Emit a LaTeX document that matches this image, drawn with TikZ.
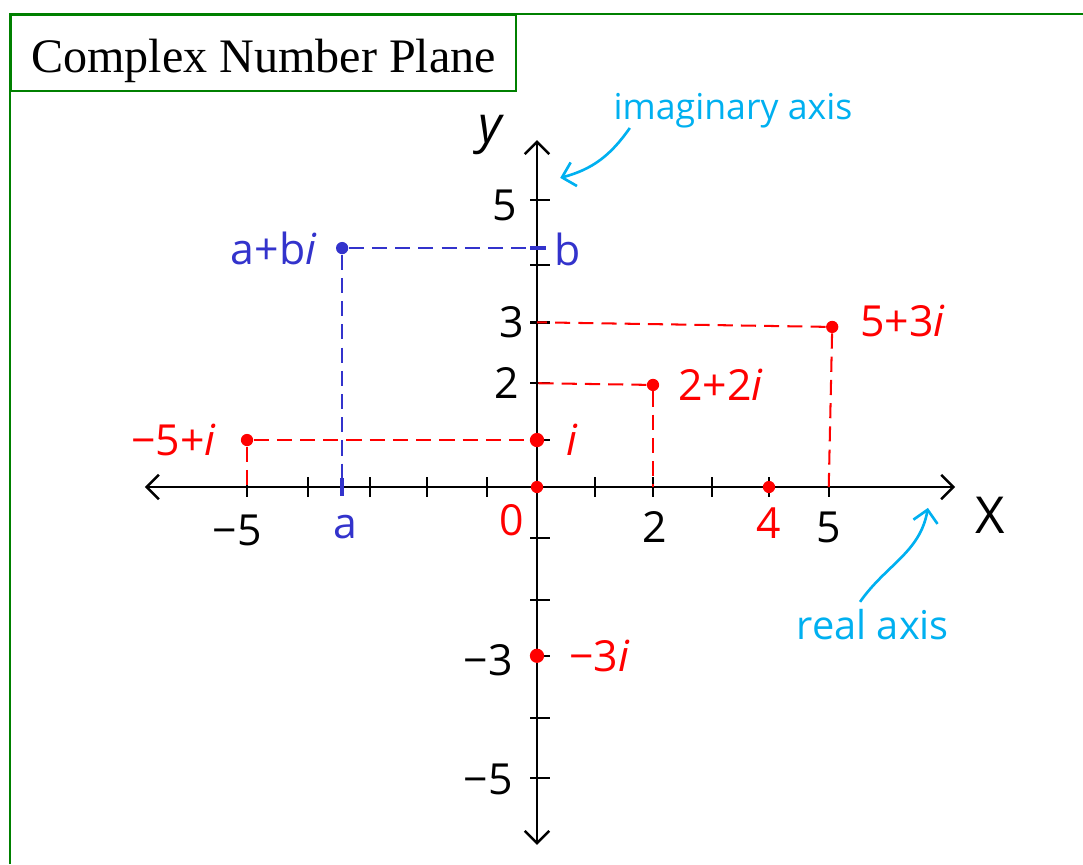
\documentclass[tikz,border=0pt]{standalone}
\usepackage{fontspec}
\setmainfont{Liberation Serif}
\newfontfamily\handfont{Open Sans}
\usetikzlibrary{arrows.meta, positioning, calc}

\definecolor{framegreen}{RGB}{0,128,0}
\definecolor{ptred}{RGB}{255,0,0}
\definecolor{ptblue}{RGB}{51,51,204}
\definecolor{notecyan}{RGB}{0,176,240}

\begin{document}
\begin{tikzpicture}[>={Straight Barb[length=6pt,width=12pt]},
  axisline/.style={line width=1.2pt, black},
  tickmark/.style={line width=1.2pt, black},
  dot/.style={circle, fill=ptred, inner sep=0pt, minimum size=6pt},
  bluedot/.style={dot, fill=ptblue},
  reddash/.style={ptred, line width=1pt, dash pattern=on 7.4pt off 4pt},
  bluedash/.style={reddash, ptblue},
  lbl/.style={font=\handfont\fontsize{21}{24}\selectfont},
  note/.style={font=\handfont\fontsize{17.5}{20}\selectfont, text=notecyan},
  notearrow/.style={notecyan, line width=1.3pt, ->}]
  \useasboundingbox (-9.259,-6.5) rectangle (9.414,8.397);

  % frame and title
  \draw[framegreen, line width=1pt] (-9.086,-6.5) -- (-9.086,8.155) -- (9.414,8.155);
  \node[draw=framegreen, line width=1pt, anchor=north west, inner sep=0pt,
        minimum width=8.707cm, minimum height=1.31cm,
        font=\fontsize{23.6}{28}\selectfont] (title) at (-9.086,8.155) {};
  \node[font=\fontsize{23.6}{28}\selectfont, anchor=base] (titletext)
        at ([yshift=-0.33cm]title.center) {Complex Number Plane};

  % axes
  \coordinate (o) at (0,0);
  \coordinate (xl) at (-6.76,0);
  \coordinate (xr) at (7.21,0);
  \coordinate (yt) at (0,5.98);
  \coordinate (yb) at (0,-6.17);
  \draw[axisline, <->] (xl) -- (xr);
  \draw[axisline, <->] (yb) -- (yt);
  \node[lbl, font=\handfont\itshape\fontsize{25}{28}\selectfont] (ylab) at (-0.81,6.07) {y};
  \node[lbl, font=\handfont\fontsize{25}{28}\selectfont] (xlab) at (7.81,-0.48) {X};

  % ticks
  \foreach \x in {-5,-3.95,-2.88,-1.9,-0.86,1,2,3.02,4,5.03}
    \draw[tickmark] (\x,-0.17) -- (\x,0.17);
  \foreach \y in {4.95,3.83,2.84,1.79,0.81,-0.88,-1.95,-2.91,-3.98,-5.02}
    \draw[tickmark] (-0.12,\y) -- (0.23,\y);

  % axis numbers
  \node[lbl] (xm5) at (-5.17,-0.74) {−5};
  \node[lbl] (x2) at (2.03,-0.69) {2};
  \node[lbl] (x5) at (5.03,-0.69) {5};
  \node[lbl] (y5) at (-0.55,4.86) {5};
  \node[lbl] (y3) at (-0.43,2.84) {3};
  \node[lbl] (y2) at (-0.52,1.79) {2};
  \node[lbl] (ym3) at (-0.84,-2.98) {−3};
  \node[lbl] (ym5) at (-0.84,-5.05) {−5};

  % general point a+bi
  \coordinate (ax) at (-3.36,0);
  \coordinate (by) at (0,4.12);
  \draw[ptblue, line width=2pt] (-3.36,-0.15) -- (-3.36,0.15);
  \draw[ptblue, line width=2pt] (-0.12,4.12) -- (0.15,4.12);
  \node[bluedot] (pab) at (-3.36,4.12) {};
  \draw[bluedash] (pab) -- (by);
  \draw[bluedash] (pab) -- (ax);
  \node[lbl, text=ptblue, left=0.2cm of pab] (lab) {a+b\textit{i}};
  \node[lbl, text=ptblue] (la) at (-3.31,-0.69) {a};
  \node[lbl, text=ptblue] (lb) at (0.53,4.09) {b};

  % red points
  \coordinate (xa5) at (-5,0);
  \coordinate (xa2) at (2,0);
  \coordinate (xa53) at (5.03,0);
  \coordinate (ya2) at (0,1.79);
  \coordinate (ya3) at (0,2.84);
  \node[dot] (p0) at (o) {};
  \node[dot, minimum size=7pt] (pi) at (0,0.81) {};
  \node[dot] (pm5) at (-5,0.81) {};
  \node[dot] (p22) at (2,1.76) {};
  \node[dot] (p53) at (5.09,2.76) {};
  \node[dot] (p4) at (4,0) {};
  \node[dot, minimum size=7pt] (pm3) at (0,-2.91) {};

  \draw[reddash] (pm5) -- (pi);
  \draw[reddash] (pm5) -- (xa5);
  \draw[reddash] (p22) -- (ya2);
  \draw[reddash] (p22) -- (xa2);
  \draw[reddash] (p53) -- (ya3);
  \draw[reddash] (p53) -- (xa53);

  \node[lbl, text=ptred, left=0.3cm of pm5] (lm5) {−5+\textit{i}};
  \node[lbl, text=ptred, right=0.25cm of pi] (li) {\textit{i}};
  \node[lbl, text=ptred, right=0.2cm of p22] (l22) {2+2\textit{i}};
  \node[lbl, text=ptred, right=0.25cm of p53, yshift=0.1cm] (l53) {5+3\textit{i}};
  \node[lbl, text=ptred, right=0.3cm of pm3] (lm3) {−3\textit{i}};
  \node[lbl, text=ptred] (l0) at (-0.43,-0.57) {0};
  \node[lbl, text=ptred] (l4) at (4,-0.62) {4};

  % notes
  \node[note] (nim) at (3.38,6.49) {imaginary axis};
  \node[note, font=\handfont\fontsize{19.5}{22}\selectfont] (nre) at (5.79,-2.38) {real axis};
  \coordinate (imstart) at (1.6,6.19);
  \coordinate (imtip) at (0.4,5.33);
  \coordinate (restart) at (5.57,-1.98);
  \coordinate (retip) at (6.74,-0.36);
  \draw[notearrow] (imstart) to[out=-125, in=15] (imtip);
  \draw[notearrow] (restart) to[out=55, in=-100] (retip);
\end{tikzpicture}
\end{document}
